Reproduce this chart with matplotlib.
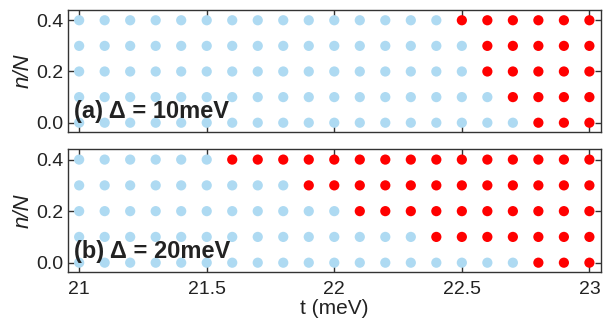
import numpy as np
import matplotlib
matplotlib.use("Agg")
import matplotlib.pyplot as plt

plt.rcParams['font.family'] = ['Liberation Sans', 'DejaVu Sans']

# Data
t_values = np.round(np.arange(21.0, 23.0001, 0.1), 2)
n_values = [0.0, 0.1, 0.2, 0.3, 0.4]
# t at which each n-row turns red (phase onset)
onset_a = [22.8, 22.7, 22.6, 22.6, 22.5]
onset_b = [22.8, 22.4, 22.1, 21.9, 21.6]
labels = ["(a) Δ = 10meV", "(b) Δ = 20meV"]
xticks = [21, 21.5, 22, 22.5, 23]
xticklabels = ["21", "21.5", "22", "22.5", "23"]
yticks = [0.0, 0.2, 0.4]
yticklabels = ["0.0", "0.2", "0.4"]

blue = "#AEDAF2"
red = "#FF0000"
spine_c = "#333333"
text_c = "#222222"

fig = plt.figure(figsize=(6.08, 3.23), dpi=100)
ax_a = fig.add_axes([0.1113, 0.5923, 0.877, 0.3767])
ax_b = fig.add_axes([0.1113, 0.1588, 0.877, 0.3790])

for ax, onset, lab in [(ax_a, onset_a, labels[0]), (ax_b, onset_b, labels[1])]:
    for n, on in zip(n_values, onset):
        tb = [t for t in t_values if t < on - 1e-6]
        tr = [t for t in t_values if t >= on - 1e-6]
        ax.scatter(tb, [n] * len(tb), s=54, color=blue, edgecolors='none', zorder=2)
        ax.scatter(tr, [n] * len(tr), s=54, color=red, edgecolors='none', zorder=2)
    ax.set_xlim(20.955, 23.045)
    ax.set_ylim(-0.035, 0.44)
    ax.set_xticks(xticks)
    ax.set_yticks(yticks)
    ax.set_yticklabels(yticklabels)
    ax.tick_params(direction='in', top=True, right=True, length=4, width=1,
                   color=spine_c, labelsize=14, labelcolor=text_c, pad=3)
    for s in ax.spines.values():
        s.set_color(spine_c)
        s.set_linewidth(1.0)
    ax.set_ylabel("n/N", fontsize=16, style='italic', color=text_c, labelpad=2)
    ax.text(0.012, 0.113, lab, transform=ax.transAxes, fontsize=17,
            fontweight='bold', color=text_c, ha='left', va='baseline', zorder=5)

ax_a.set_xticklabels([])
ax_b.set_xticklabels(xticklabels)
ax_b.tick_params(axis='x', pad=6.5)
ax_b.set_xlabel("t (meV)", fontsize=15, color=text_c, labelpad=1)

fig.savefig("out.png", dpi=100)
